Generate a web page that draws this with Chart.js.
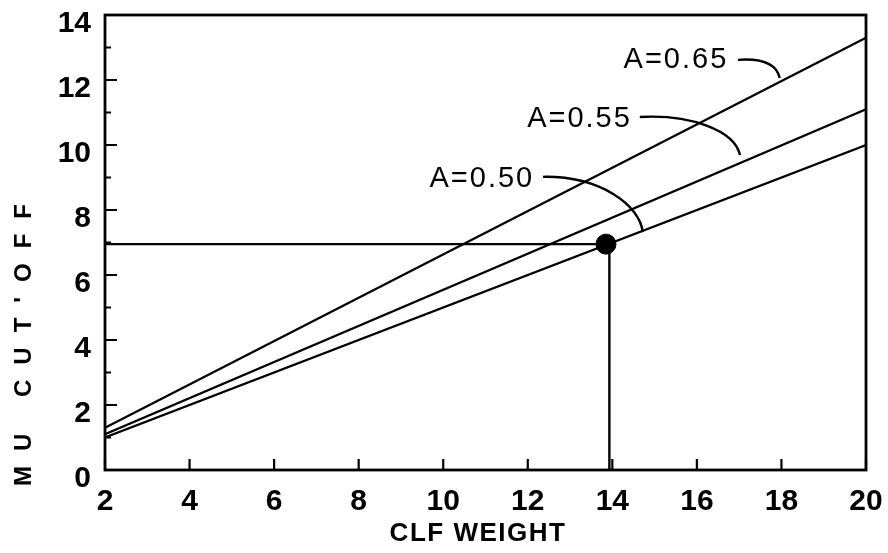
<!DOCTYPE html>
<html>
<head>
<meta charset="utf-8">
<script src="https://cdn.jsdelivr.net/npm/chart.js@4.4.0/dist/chart.umd.min.js"></script>
<style>
  html, body { margin: 0; padding: 0; background: #fff; }
  #c { display: block; }
</style>
</head>
<body>
<canvas id="c" width="888" height="553"></canvas>
<script>
// ---------------- DATA ----------------
const clfWeight = [2, 20];
const cutoffA065 = [1.3, 13.3];
const cutoffA055 = [1.1, 11.1];
const cutoffA050 = [1.0, 10.0];

// operating point and its guide lines
const pointX = [13.85];
const pointY = [6.95];
const guideHX = [2, 13.85];
const guideHY = [6.95, 6.95];
const guideVX = [13.93, 13.93];
const guideVY = [0, 6.95];

// curve labels (centre of text, data units) and leader curves (bezier, data units)
const labelText = ["A=0.65", "A=0.55", "A=0.50"];
const labelX = [15.48, 13.2, 10.89];
const labelY = [12.68, 10.86, 9.02];
const leaderX = [
  [16.97, 17.61, 17.89, 17.96],
  [14.65, 15.83, 16.89, 17.02],
  [12.36, 13.71, 14.65, 14.72]
];
const leaderY = [
  [12.62, 12.68, 12.46, 12.06],
  [10.86, 10.95, 10.46, 9.69],
  [9.02, 9.05, 8.15, 7.32]
];

const xTicks = [2, 4, 6, 8, 10, 12, 14, 16, 18, 20];
const yTicks = [0, 2, 4, 6, 8, 10, 12, 14];
const yMinorTicks = [1, 3, 5, 7, 9, 11, 13];

const xTitle = "CLF WEIGHT";
const yTitle = "MU CUT'OFF";

// ---------------- HELPERS ----------------
const pts = (xs, ys) => xs.map((x, i) => ({ x: x, y: ys[i] }));

const lineSet = (data) => ({
  type: "line",
  data: data,
  borderColor: "#000",
  borderWidth: 2.4,
  pointRadius: 0,
  fill: false,
  tension: 0
});

// ---------------- DECORATION PLUGIN ----------------
const decor = {
  id: "decor",
  afterDraw(chart) {
    const ctx = chart.ctx;
    const xs = chart.scales.x;
    const ys = chart.scales.y;
    const a = chart.chartArea;
    const px = v => xs.getPixelForValue(v);
    const py = v => ys.getPixelForValue(v);

    ctx.save();
    ctx.strokeStyle = "#000";
    ctx.fillStyle = "#000";

    // frame
    ctx.lineWidth = 2.8;
    ctx.strokeRect(a.left, a.top, a.right - a.left, a.bottom - a.top);

    // inward ticks
    ctx.lineWidth = 2.2;
    ctx.beginPath();
    yTicks.forEach(v => {
      ctx.moveTo(a.left, py(v));
      ctx.lineTo(a.left + 12, py(v));
    });
    yMinorTicks.forEach(v => {
      ctx.moveTo(a.left, py(v));
      ctx.lineTo(a.left + 6, py(v));
    });
    xTicks.forEach(v => {
      ctx.moveTo(px(v), a.bottom);
      ctx.lineTo(px(v), a.bottom - 11);
    });
    ctx.stroke();

    // leader curves
    ctx.lineWidth = 2.4;
    leaderX.forEach((lx, i) => {
      const ly = leaderY[i];
      ctx.beginPath();
      ctx.moveTo(px(lx[0]), py(ly[0]));
      ctx.bezierCurveTo(px(lx[1]), py(ly[1]), px(lx[2]), py(ly[2]), px(lx[3]), py(ly[3]));
      ctx.stroke();
    });

    // curve labels
    ctx.font = "29px 'Liberation Sans', Arial, sans-serif";
    ctx.letterSpacing = "2px";
    ctx.textAlign = "center";
    ctx.textBaseline = "alphabetic";
    labelText.forEach((t, i) => {
      ctx.fillText(t, px(labelX[i]) + 1, py(labelY[i]) + 10);
    });

    // x title
    ctx.font = "bold 26px 'Liberation Sans', Arial, sans-serif";
    ctx.letterSpacing = "1.5px";
    ctx.fillText(xTitle, 478, 541);

    // y title
    ctx.translate(31, 345);
    ctx.rotate(-Math.PI / 2);
    ctx.font = "bold 24px 'Liberation Sans', Arial, sans-serif";
    ctx.letterSpacing = "15px";
    ctx.fillText(yTitle, 7.5, 0);
    ctx.restore();
  }
};

// ---------------- CHART ----------------
const tickFont = { family: "'Liberation Sans', Arial, sans-serif", size: 30, weight: "bold" };

new Chart(document.getElementById("c").getContext("2d"), {
  type: "line",
  data: {
    datasets: [
      lineSet(pts(clfWeight, cutoffA065)),
      lineSet(pts(clfWeight, cutoffA055)),
      lineSet(pts(clfWeight, cutoffA050)),
      lineSet(pts(guideHX, guideHY)),
      lineSet(pts(guideVX, guideVY)),
      {
        type: "scatter",
        data: pts(pointX, pointY),
        backgroundColor: "#000",
        borderColor: "#000",
        pointRadius: 10,
        pointHoverRadius: 10
      }
    ]
  },
  options: {
    responsive: false,
    animation: false,
    devicePixelRatio: 1,
    layout: { padding: { top: 15, right: 22, left: 0, bottom: 0 } },
    plugins: {
      legend: { display: false },
      tooltip: { enabled: false }
    },
    scales: {
      x: {
        type: "linear",
        min: 2,
        max: 20,
        grid: { display: false, drawTicks: false },
        border: { display: false },
        ticks: {
          stepSize: 2,
          padding: 14,
          color: "#000",
          maxRotation: 0,
          font: tickFont
        },
        afterFit(s) {
          s.height = 83;
          s.paddingLeft = 0;
          s.paddingRight = 0;
        }
      },
      y: {
        type: "linear",
        min: 0,
        max: 14,
        grid: { display: false, drawTicks: false },
        border: { display: false },
        ticks: {
          stepSize: 2,
          padding: 14,
          labelOffset: 9,
          color: "#000",
          font: tickFont
        },
        afterFit(s) {
          s.width = 105;
          s.paddingTop = 0;
          s.paddingBottom = 0;
        }
      }
    }
  },
  plugins: [decor]
});
</script>
</body>
</html>
